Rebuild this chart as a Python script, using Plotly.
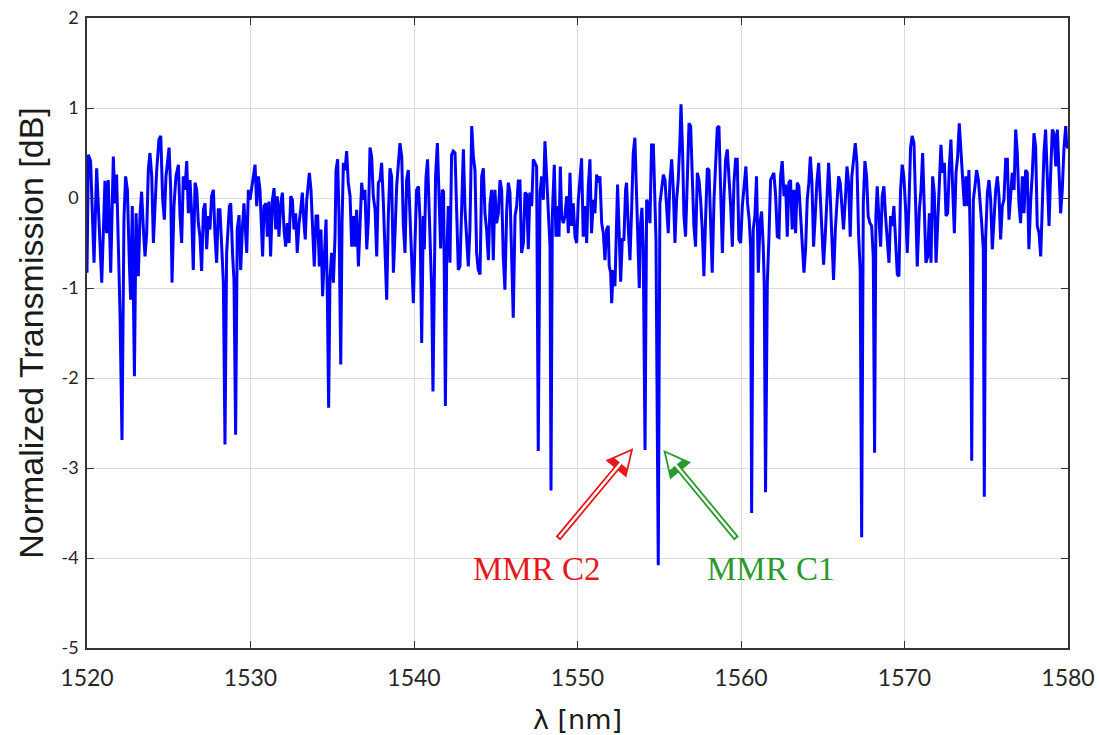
import plotly.graph_objects as go

lam = [
1520.00,1520.08,1520.22,1520.33,1520.43,1520.59,1520.80,1520.90,1521.10,1521.20,1521.30,1521.45,1521.61,1521.71,1521.81,1521.92,1522.02,1522.14,1522.26,1522.36,1522.47,1522.59,1522.67,1522.77,1522.90,1523.00,1523.14,1523.24,1523.34,1523.45,1523.55,1523.65,1523.75,1523.85,1523.96,1524.06,1524.16,1524.26,1524.40,1524.51,1524.63,1524.73,1524.83,1524.91,1525.02,1525.12,1525.20,1525.32,1525.44,1525.59,1525.69,1525.79,1525.89,1525.99,1526.10,1526.20,1526.30,1526.40,1526.50,1526.61,1526.71,1526.81,1526.91,1527.01,1527.12,1527.22,1527.32,1527.42,1527.52,1527.62,1527.73,1527.83,1527.93,1528.03,1528.13,1528.24,1528.34,1528.44,1528.54,1528.71,1528.79,1528.91,1528.99,1529.09,1529.19,1529.30,1529.40,1529.50,1529.60,1529.77,1529.87,1529.97,
1530.28,1530.38,1530.48,1530.58,1530.68,1530.74,1530.83,1530.95,1531.03,1531.13,1531.23,1531.34,1531.44,1531.54,1531.64,1531.74,1531.85,1531.95,1532.05,1532.15,1532.25,1532.36,1532.46,1532.56,1532.66,1532.76,1532.86,1532.97,1533.07,1533.17,1533.27,1533.35,1533.44,1533.54,1533.60,1533.70,1533.80,1533.90,1534.01,1534.11,1534.21,1534.31,1534.41,1534.52,1534.62,1534.70,1534.78,1534.86,1534.96,1535.07,1535.17,1535.23,1535.33,1535.41,1535.52,1535.60,1535.68,1535.78,1535.88,1535.98,1536.09,1536.19,1536.29,1536.39,1536.49,1536.60,1536.70,1536.80,1536.90,1537.00,1537.11,1537.21,1537.31,1537.41,1537.51,1537.62,1537.72,1537.82,1537.92,1538.02,1538.12,1538.23,1538.33,1538.43,1538.53,1538.63,1538.74,1538.84,1538.94,1539.04,1539.14,1539.25,1539.35,1539.45,1539.55,1539.65,1539.76,1539.86,1539.96,1540.06,1540.16,1540.27,1540.37,1540.47,1540.57,
1540.63,1540.73,1540.83,1540.94,1541.08,1541.16,1541.24,1541.32,1541.43,1541.53,1541.63,1541.73,1541.81,1541.92,1542.00,1542.10,1542.20,1542.30,1542.40,1542.51,1542.61,1542.71,1542.81,1542.91,1543.02,1543.12,1543.22,1543.32,1543.42,1543.53,1543.63,1543.73,1543.83,1543.93,1544.04,1544.14,1544.24,1544.34,1544.44,1544.55,1544.65,1544.75,1544.85,1544.95,1545.05,1545.16,1545.26,1545.36,1545.46,1545.56,1545.67,1545.77,1545.87,1545.97,1546.07,1546.18,1546.28,1546.38,1546.48,1546.58,1546.69,1546.79,1546.89,1546.99,1547.09,1547.20,1547.30,1547.40,1547.50,1547.60,1547.71,1547.81,1547.91,1548.01,1548.11,1548.21,1548.32,1548.38,1548.46,1548.58,1548.68,1548.79,1548.87,1548.95,1549.03,1549.13,1549.23,1549.34,1549.44,1549.54,1549.64,1549.74,1549.85,1549.95,1550.05,
1550.25,1550.35,1550.46,1550.56,1550.66,1550.76,1550.86,1550.97,1551.07,1551.17,1551.27,1551.37,1551.48,1551.58,1551.68,1551.78,1551.88,1551.94,1552.03,1552.09,1552.19,1552.29,1552.39,1552.45,1552.54,1552.64,1552.74,1552.84,1552.94,1553.00,1553.11,1553.21,1553.31,1553.41,1553.51,1553.62,1553.68,1553.78,1553.86,1553.94,1554.02,1554.13,1554.23,1554.33,1554.43,1554.53,1554.64,1554.74,1554.80,1554.94,1555.04,1555.14,1555.25,1555.35,1555.45,1555.55,1555.65,1555.76,1555.86,1555.96,1556.06,1556.16,1556.27,1556.33,1556.43,1556.51,1556.61,1556.71,1556.82,1556.92,1557.02,1557.12,1557.22,1557.33,1557.43,1557.53,1557.63,1557.73,1557.84,1557.94,1558.04,1558.14,1558.24,1558.35,1558.45,1558.55,1558.65,1558.75,1558.86,1558.96,1559.06,1559.16,1559.26,1559.37,1559.47,1559.57,1559.67,1559.77,1559.87,1559.98,1560.08,1560.18,
1560.30,1560.40,1560.50,1560.59,1560.65,1560.75,1560.85,1560.95,1561.06,1561.16,1561.26,1561.36,1561.42,1561.50,1561.61,1561.71,1561.81,1561.91,1562.01,1562.12,1562.22,1562.32,1562.42,1562.52,1562.63,1562.73,1562.83,1562.93,1563.03,1563.13,1563.24,1563.34,1563.44,1563.54,1563.64,1563.75,1563.85,1563.95,1564.05,1564.15,1564.24,1564.34,1564.44,1564.54,1564.64,1564.75,1564.85,1564.95,1565.05,1565.15,1565.26,1565.36,1565.46,1565.56,1565.66,1565.77,1565.87,1565.97,1566.07,1566.17,1566.27,1566.38,1566.48,1566.58,1566.68,1566.78,1566.89,1566.99,1567.09,1567.19,1567.29,1567.38,1567.48,1567.58,1567.68,1567.78,1567.89,1567.99,1568.09,1568.17,1568.25,1568.33,1568.44,1568.54,1568.64,1568.74,1568.84,1568.95,1569.05,1569.15,1569.25,1569.35,1569.46,1569.56,1569.66,1569.76,1569.86,1569.96,1570.07,1570.17,1570.27,1570.37,1570.47,1570.58,1570.68,1570.78,
1570.91,1571.01,1571.11,1571.21,1571.31,1571.42,1571.52,1571.62,1571.72,1571.82,1571.93,1572.03,1572.13,1572.23,1572.33,1572.44,1572.54,1572.64,1572.74,1572.84,1572.95,1573.05,1573.15,1573.25,1573.35,1573.46,1573.56,1573.66,1573.76,1573.86,1573.94,1574.03,1574.11,1574.21,1574.31,1574.41,1574.52,1574.62,1574.72,1574.82,1574.88,1574.96,1575.07,1575.17,1575.27,1575.37,1575.47,1575.58,1575.68,1575.78,1575.88,1575.98,1576.08,1576.19,1576.29,1576.39,1576.49,1576.59,1576.70,1576.80,1576.90,1577.00,1577.10,1577.21,1577.31,1577.41,1577.51,1577.61,1577.72,1577.82,1577.92,1578.02,1578.12,1578.23,1578.33,1578.43,1578.53,1578.63,1578.74,1578.84,1578.94,1579.04,1579.14,1579.25,1579.35,1579.45,1579.55,1579.65,1579.75,1579.86,1579.92,1580.00,
]

trans = [
-0.83,0.48,0.41,-0.17,-0.72,0.33,-0.57,-0.94,0.19,-0.39,0.20,-0.83,0.46,-0.06,0.26,-0.46,-1.28,-2.69,-0.24,0.24,0.09,-0.72,-1.13,-0.09,-1.98,-0.17,-0.87,-0.20,0.07,-0.35,-0.65,-0.39,0.31,0.50,0.24,-0.50,-0.09,0.30,0.65,0.69,-0.02,-0.24,0.24,0.37,0.56,0.09,-0.94,-0.09,0.24,0.37,-0.20,-0.50,0.24,0.09,0.41,-0.17,0.20,-0.17,-0.80,0.17,0.09,-0.28,-0.43,-0.81,-0.13,-0.06,-0.57,-0.20,-0.35,0.02,0.09,-0.43,-0.72,-0.13,-0.13,-0.54,-0.94,-2.74,-0.61,-0.09,-0.06,-0.65,-0.91,-2.63,-0.35,-0.19,-0.80,-0.35,-0.06,-0.61,0.09,-0.02,
0.37,-0.09,0.24,0.09,-0.35,-0.65,-0.09,-0.06,-0.43,-0.04,-0.65,-0.02,0.11,-0.35,0.02,-0.43,-0.06,0.06,-0.35,-0.54,-0.28,-0.50,0.02,-0.02,-0.35,-0.17,-0.61,-0.28,-0.13,0.06,-0.28,-0.46,-0.02,0.13,0.28,0.09,-0.28,-0.76,-0.20,-0.20,-0.76,-0.35,-1.09,-0.61,-0.24,-1.09,-2.33,-0.91,-0.61,-0.94,-0.43,0.31,0.43,-0.20,-1.85,-0.28,0.39,0.31,0.52,0.17,0.02,-0.54,-0.20,-0.54,-0.13,-0.76,-0.35,0.17,-0.02,0.09,-0.57,-0.24,0.56,0.46,0.02,-0.13,-0.65,0.17,0.20,0.39,-0.02,-0.61,-1.13,-0.20,0.33,0.24,-0.83,-0.39,0.13,0.37,0.61,0.46,-0.31,-0.61,0.20,0.31,-0.28,-0.69,-1.17,-0.50,0.09,0.13,-0.24,-1.61,-0.20,
-0.57,0.22,0.43,-0.28,-1.02,-2.15,-0.65,0.24,0.61,0.13,-0.56,0.09,0.07,-2.31,-0.65,-0.09,-0.72,0.48,0.52,0.50,-0.20,-0.80,-0.76,-0.13,0.54,-0.13,-0.50,-0.76,-0.35,0.80,0.46,0.31,-0.61,-0.80,-0.85,0.24,0.33,-0.17,-0.35,-0.69,-0.06,0.09,-0.69,0.09,-0.28,-0.17,0.20,0.09,-0.65,-1.02,-0.13,0.17,0.06,-0.57,-1.33,-0.20,-0.09,0.19,0.19,-0.61,-0.50,0.06,0.04,-0.57,0.06,-0.09,0.43,0.39,0.35,-2.81,0.06,0.24,-0.02,0.63,0.17,-0.13,-0.54,-3.25,-0.20,0.37,-0.43,-0.09,-0.43,0.35,-0.20,-0.28,-0.20,0.02,-0.39,0.28,-0.31,-0.06,-0.43,-0.50,-0.02,
0.44,-0.43,-0.09,-0.50,0.13,0.43,-0.39,-0.02,-0.17,0.26,0.17,0.24,-0.28,-0.39,-0.69,-0.35,-0.31,-0.76,-0.83,-1.17,-0.80,-0.98,-0.02,0.15,-0.35,-0.93,-0.46,-0.46,0.09,0.17,-0.35,-0.69,-0.13,0.50,0.67,-0.02,-0.20,-1.00,-0.28,-0.11,-0.54,-2.80,-0.02,-0.06,-0.28,0.59,0.59,-0.09,-0.46,-4.08,-0.06,0.09,0.26,0.20,-0.13,-0.39,0.17,0.43,0.09,-0.50,-0.02,0.20,0.65,1.04,0.50,-0.20,-0.43,0.28,0.83,0.80,0.09,-0.31,-0.54,0.28,0.20,-0.02,-0.35,-0.87,-0.20,0.33,0.31,-0.20,-0.83,-0.02,0.46,0.78,0.80,0.09,-0.61,0.02,0.43,0.54,0.28,-0.09,-0.54,0.17,0.43,0.43,-0.46,-0.50,-0.09,0.13,
0.35,-0.06,-0.24,-0.54,-3.50,-0.35,-0.20,0.24,-0.83,-0.28,-0.15,-0.54,-0.94,-3.27,-0.94,-0.43,0.20,0.24,0.28,0.02,-0.43,-0.44,0.24,0.41,0.02,0.15,-0.43,0.17,0.20,-0.35,0.09,-0.39,0.17,0.13,-0.17,-0.46,-0.83,-0.57,-0.02,0.17,0.46,0.17,-0.54,-0.20,0.17,0.39,-0.02,-0.28,-0.74,-0.43,-0.06,0.39,0.02,-0.50,-0.91,-0.35,-0.02,0.24,0.17,-0.13,-0.35,-0.02,0.35,0.17,-0.43,0.24,0.43,0.61,0.39,-0.39,-0.80,-3.77,-0.06,0.41,0.24,-0.20,-0.28,-0.31,-0.65,-2.83,-0.20,0.13,-0.24,-0.54,0.02,0.13,-0.20,-0.43,-0.72,-0.20,-0.31,-0.09,-0.54,-0.85,-0.87,0.09,0.37,0.24,-0.13,-0.61,-0.09,0.56,0.69,0.61,-0.06,-0.76,
-0.13,0.09,0.50,-0.20,-0.72,-0.65,-0.17,-0.72,0.24,0.06,-0.72,-0.28,0.28,0.59,0.28,0.39,-0.20,-0.17,0.35,0.65,0.09,-0.39,0.28,0.46,0.83,0.54,0.28,-0.09,0.24,-0.09,0.31,-0.54,-2.92,-0.02,0.13,0.31,0.20,-0.02,-0.28,-0.57,-3.32,-0.46,0.06,0.20,-0.02,-0.57,-0.24,0.09,0.24,0.02,-0.46,-0.09,-0.02,0.43,0.43,-0.24,0.02,0.28,0.09,0.76,0.50,-0.06,-0.28,0.24,-0.17,0.31,0.28,-0.57,-0.02,0.28,0.72,0.57,-0.31,-0.39,-0.65,0.02,0.50,0.76,0.13,-0.31,0.28,0.76,0.72,0.35,0.76,0.17,-0.17,0.09,0.54,0.80,0.59,0.55,
]

x_ticks = [1520, 1530, 1540, 1550, 1560, 1570, 1580]
y_ticks = [-5, -4, -3, -2, -1, 0, 1, 2]
y_tick_text = ["-5", "-4", "-3", "-2", "-1", "0", "1", "2"]

labels = ["MMR C2", "MMR C1"]
label_colors = ["#e3191e", "#2a9a2e"]
label_pos = [(1547.5, -4.12), (1561.8, -4.12)]
arrow_heads = [(1553.41, -2.78), (1555.25, -2.80)]
arrow_tails = [(1548.73, -3.80), (1559.80, -3.80)]

fig = go.Figure()
fig.add_trace(go.Scatter(x=lam, y=trans, mode="lines",
                         line=dict(color="#0000ff", width=3), showlegend=False))

axis_common = dict(ticks="inside", ticklen=7, tickcolor="#333333", showline=True,
                   linecolor="#333333", linewidth=1.5, mirror="ticks", showgrid=True,
                   gridcolor="#dcdcdc", gridwidth=1, zeroline=False, automargin=False,
                   ticklabeloverflow="allow")
fig.update_xaxes(range=[1520, 1580], tickvals=x_ticks, ticklabelstandoff=9,
                 tickfont=dict(family="Lato, sans-serif", size=23, color="#262626"),
                 title=dict(text="λ [nm]", font=dict(family="DejaVu Sans, sans-serif", size=27, color="#1a1a1a"), standoff=22),
                 **axis_common)
fig.update_yaxes(range=[-5, 2], tickvals=y_ticks, ticktext=y_tick_text, ticklabelstandoff=3,
                 tickfont=dict(family="Lato, sans-serif", size=18, color="#262626"),
                 title=dict(text="Normalized Transmission [dB]", font=dict(family="Liberation Sans, Arial, sans-serif", size=34, color="#1a1a1a"), standoff=8),
                 **axis_common)

for lab, col, (tx, ty), (hx, hy), (ax, ay) in zip(labels, label_colors, label_pos, arrow_heads, arrow_tails):
    fig.add_annotation(x=tx, y=ty, text=lab, showarrow=False,
                       font=dict(family="Liberation Serif, Times New Roman, serif", size=33, color=col))
    fig.add_annotation(x=hx, y=hy, ax=ax, ay=ay, axref="x", ayref="y", xref="x", yref="y",
                       text="", showarrow=True, arrowhead=2, arrowsize=0.9, arrowwidth=6,
                       arrowcolor=col, standoff=0)
    fig.add_annotation(x=hx, y=hy, ax=ax, ay=ay, axref="x", ayref="y", xref="x", yref="y",
                       text="", showarrow=True, arrowhead=2, arrowsize=1.3, arrowwidth=2.4,
                       arrowcolor="white", standoff=4, startstandoff=2)

fig.update_layout(width=1100, height=735, margin=dict(l=87, r=32, t=18, b=87),
                  paper_bgcolor="white", plot_bgcolor="white")
# remove the page's default body margin so the figure fills the window exactly
fig.write_html("out.html", config={"displayModeBar": False},
               post_script="document.body.style.margin='0';document.body.style.overflow='hidden';")
